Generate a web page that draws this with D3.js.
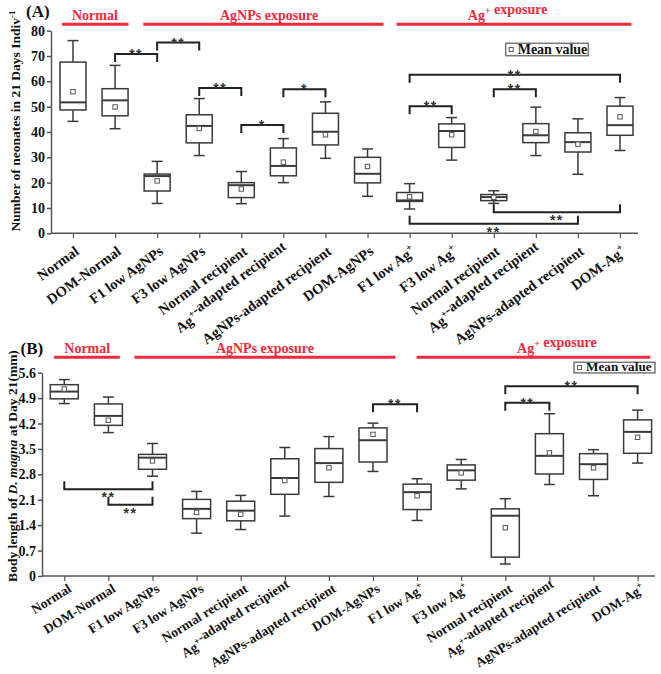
<!DOCTYPE html>
<html><head><meta charset="utf-8">
<script src="https://cdn.jsdelivr.net/npm/d3@7"></script>
<style>body{margin:0;background:#fff}</style>
</head><body><svg id="c" width="661" height="674"></svg>
<script>
// ---------- data ----------
const categories = ["Normal","DOM-Normal","F1 low AgNPs","F3 low AgNPs","Normal recipient",
  "Ag+-adapted recipient","AgNPs-adapted recipient","DOM-AgNPs","F1 low Ag+","F3 low Ag+",
  "Normal recipient","Ag+-adapted recipient","AgNPs-adapted recipient","DOM-Ag+"];
const groupNames = ["Normal","AgNPs exposure","Ag+ exposure"];

// Panel A: number of neonates
const aTicks = [0,10,20,30,40,50,60,70,80];
const aMin  = [44.2,41.3,11.8,30.7,11.7,20.0,29.6,14.6, 9.6,28.9,11.8,30.7,23.3,32.7];
const aQ1   = [48.7,46.4,16.7,35.7,14.1,22.7,34.9,19.9,12.6,33.9,12.9,35.8,32.1,38.7];
const aMed  = [51.7,52.5,22.6,42.4,19.0,26.6,40.1,23.5,13.0,40.4,14.3,38.7,36.0,42.7];
const aQ3   = [67.6,57.1,23.4,46.8,20.0,33.7,47.4,30.0,16.1,43.2,15.3,43.3,39.7,50.2];
const aMax  = [76.1,66.3,28.4,53.2,24.4,37.4,51.9,33.3,19.6,45.7,16.8,49.8,45.2,53.6];
const aMean = [55.9,49.9,20.7,41.4,17.5,28.1,38.9,26.4,14.4,38.9,14.2,40.2,35.2,46.0];
const aBrackets = [
  {from:1,to:2,level:70.8,label:"**",dir:"top"},
  {from:2,to:3,level:75.3,label:"**",dir:"top"},
  {from:3,to:4,level:57.4,label:"**",dir:"top"},
  {from:4,to:5,level:42.8,label:"*",dir:"top"},
  {from:5,to:6,level:56.9,label:"*",dir:"top"},
  {from:8,to:13,level:62.6,label:"**",dir:"top"},
  {from:8,to:9,level:50.2,label:"**",dir:"top"},
  {from:10,to:11,level:56.9,label:"**",dir:"top"},
  {from:8,to:12,level:3.8,label:"**",dir:"bottom"},
  {from:10,to:13,level:8.3,label:"**",dir:"bottom"}
];

// Panel B: body length
const bTicks = [0,0.7,1.4,2.1,2.8,3.5,4.2,4.9,5.6];
const bTickLabels = ["0","0.7","1.4","2.1","2.8","3.5","4.2","4.9","5.6"];
const bMin  = [4.75,3.95,2.75,1.18,1.28,1.65,2.19,2.88,1.53,2.40,0.33,2.52,2.21,3.11];
const bQ1   = [4.88,4.15,2.94,1.58,1.52,2.25,2.58,3.14,1.83,2.64,0.52,2.81,2.66,3.38];
const bMed  = [5.08,4.41,3.26,1.85,1.80,2.70,3.11,3.74,2.31,2.91,1.66,3.31,3.08,3.97];
const bQ3   = [5.27,4.74,3.35,2.11,2.06,3.23,3.51,4.08,2.53,3.06,1.85,3.92,3.37,4.30];
const bMax  = [5.41,4.93,3.65,2.33,2.22,3.54,3.84,4.21,2.68,3.21,2.13,4.47,3.48,4.57];
const bMean = [5.15,4.29,3.17,1.75,1.70,2.63,2.98,3.90,2.21,2.84,1.33,3.39,2.98,3.82];
const bBrackets = [
  {from:0,to:2,level:2.39,label:"**",dir:"bottom"},
  {from:1,to:2,level:1.96,label:"**",dir:"bottom"},
  {from:7,to:8,level:4.73,label:"**",dir:"top"},
  {from:10,to:11,level:4.77,label:"**",dir:"top"},
  {from:10,to:13,level:5.23,label:"**",dir:"top"}
];

// ---------- layout ----------
const SERIF = "'Liberation Serif','Times New Roman',serif";
const RED = "#ee2a3b";
const INK = "#3a3a3a";

const panels = [
  {title:"(A)", titleX:26, titleY:16.5,
   ticks:aTicks, tickLabels:aTicks.map(String), domain:[0,80], yRange:[233.3,30.7],
   xRange:[73,620], axisX:51, axisEnd:638, boxW:26, capW:11,
   min:aMin,q1:aQ1,med:aMed,q3:aQ3,max:aMax,mean:aMean, brackets:aBrackets,
   yLabel:[{t:"Number of neonates in 21 Days Indiv"},{t:"-1",sup:true}], yLabelX:20, yLabelY:121,
   groupLines:[[-0.26,1.32],[1.67,7.38],[7.69,13.27]], groupText:[0.52,4.66,10.33],
   groupLineY:24.3, groupTextY:20,
   lab:{dx:7, dy:20, angle:-36, size:14.5},
   legend:{x:505.7,y:43.3,w:82.6,h:12.4,fs:14}},
  {title:"(B)", titleX:20.5, titleY:354,
   ticks:bTicks, tickLabels:bTickLabels, domain:[0,5.6], yRange:[576,372.7],
   xRange:[64.3,637.6], axisX:42, axisEnd:655, boxW:28, capW:11,
   min:bMin,q1:bQ1,med:bMed,q3:bQ3,max:bMax,mean:bMean, brackets:bBrackets,
   yLabel:[{t:"Body length of "},{t:"D. magna",it:true},{t:" at Day 21(mm)"}], yLabelX:16.5, yLabelY:466,
   groupLines:[[-0.23,1.26],[1.59,7.51],[7.99,13.29]], groupText:[0.52,4.55,11.17],
   groupLineY:357.3, groupTextY:353,
   lab:{dx:8, dy:15, angle:-32, size:13.5},
   legend:{x:574,y:362.3,w:81,h:10.6,fs:13.2}}
];

const svg = d3.select("#c");

function richText(sel, str, size){
  // renders "Ag+" with a superscript plus
  const parts = str.split("Ag+");
  parts.forEach((p,i)=>{
    if(i>0){
      sel.append("tspan").text("Ag");
      sel.append("tspan").attr("dy",-size*0.4).attr("font-size",size*0.7).text("+");
      sel.append("tspan").attr("dy",size*0.4).text("");
    }
    if(p) sel.append("tspan").text(p);
  });
}

panels.forEach(P=>{
  const g = svg.append("g");
  const idx = d3.range(categories.length);
  const x = d3.scalePoint().domain(idx).range(P.xRange);
  const step = x.step();
  const y = d3.scaleLinear().domain(P.domain).range(P.yRange);
  const xPos = u => P.xRange[0] + u*step;

  // title
  g.append("text").attr("x",P.titleX).attr("y",P.titleY)
    .attr("font-family",SERIF).attr("font-weight","bold").attr("font-size",17).attr("fill","#111").text(P.title);

  // group headers
  P.groupLines.forEach((gl,i)=>{
    g.append("line").attr("x1",xPos(gl[0])).attr("x2",xPos(gl[1]))
      .attr("y1",P.groupLineY).attr("y2",P.groupLineY).attr("stroke",RED).attr("stroke-width",3);
    const t = g.append("text").attr("x",xPos(P.groupText[i])).attr("y",P.groupTextY)
      .attr("text-anchor","middle").attr("font-family",SERIF).attr("font-weight","bold")
      .attr("font-size",14).attr("fill",RED);
    richText(t, groupNames[i], 14);
  });

  // y axis
  const ya = g.append("g").attr("transform",`translate(${P.axisX},0)`)
    .call(d3.axisLeft(y).tickValues(P.ticks).tickFormat((d,i)=>P.tickLabels[i]).tickSize(4).tickSizeOuter(0));
  ya.select(".domain").attr("stroke","#555").attr("stroke-width",1.5);
  ya.selectAll(".tick line").attr("stroke","#555").attr("stroke-width",1.5);
  ya.selectAll(".tick text").attr("font-family",SERIF).attr("font-weight","bold")
    .attr("font-size",14).attr("fill","#111").attr("x",-6);

  // y label
  const yl = g.append("text").attr("transform",`translate(${P.yLabelX},${P.yLabelY}) rotate(-90)`)
    .attr("text-anchor","middle").attr("font-family",SERIF).attr("font-weight","bold")
    .attr("font-size",13.5).attr("fill","#111");
  P.yLabel.forEach(s=>{
    const ts = yl.append("tspan").text(s.t);
    if(s.it) ts.attr("font-style","italic");
    if(s.sup) ts.attr("dy",-5).attr("font-size",9);
  });

  // x axis
  const base = y(0);
  g.append("line").attr("x1",P.axisX).attr("x2",P.axisEnd).attr("y1",base).attr("y2",base)
    .attr("stroke","#555").attr("stroke-width",1.5);
  const xa = g.append("g").attr("transform",`translate(0,${base})`)
    .call(d3.axisBottom(x).tickSize(5).tickSizeOuter(0).tickFormat(""));
  xa.select(".domain").remove();
  xa.selectAll(".tick line").attr("stroke","#555").attr("stroke-width",1.2);
  idx.forEach(i=>{
    const t = g.append("text")
      .attr("transform",`translate(${x(i)+P.lab.dx},${base+P.lab.dy}) rotate(${P.lab.angle})`)
      .attr("text-anchor","end").attr("font-family",SERIF).attr("font-weight","bold")
      .attr("font-size",P.lab.size).attr("fill","#111");
    richText(t, categories[i], P.lab.size);
  });

  // boxes
  const bx = g.append("g").attr("fill","none").attr("stroke",INK).attr("stroke-width",1.5);
  idx.forEach(i=>{
    const cx = x(i), hw = P.boxW/2, cw = P.capW/2;
    bx.append("line").attr("x1",cx).attr("x2",cx).attr("y1",y(P.max[i])).attr("y2",y(P.q3[i]));
    bx.append("line").attr("x1",cx).attr("x2",cx).attr("y1",y(P.q1[i])).attr("y2",y(P.min[i]));
    bx.append("line").attr("x1",cx-cw).attr("x2",cx+cw).attr("y1",y(P.max[i])).attr("y2",y(P.max[i]));
    bx.append("line").attr("x1",cx-cw).attr("x2",cx+cw).attr("y1",y(P.min[i])).attr("y2",y(P.min[i]));
    bx.append("rect").attr("x",cx-hw).attr("width",P.boxW)
      .attr("y",y(P.q3[i])).attr("height",y(P.q1[i])-y(P.q3[i])).attr("fill","#fff");
    bx.append("line").attr("x1",cx-hw).attr("x2",cx+hw).attr("y1",y(P.med[i])).attr("y2",y(P.med[i])).attr("stroke-width",2);
    bx.append("rect").attr("x",cx-2.2).attr("y",y(P.mean[i])-2.2).attr("width",4.4).attr("height",4.4)
      .attr("stroke","#555").attr("stroke-width",1).attr("fill","#fff");
  });

  // significance brackets
  const br = g.append("g");
  P.brackets.forEach(b=>{
    const x1 = x(b.from), x2 = x(b.to), ly = y(b.level);
    const leg = b.dir==="top" ? 8 : -8;
    br.append("path").attr("d",`M${x1},${ly+leg}V${ly}H${x2}V${ly+leg}`)
      .attr("fill","none").attr("stroke","#222").attr("stroke-width",2);
    br.append("text").attr("x",(x1+x2)/2).attr("y", b.dir==="top" ? ly+5 : ly+13)
      .attr("text-anchor","middle").attr("font-family","'Liberation Sans',Arial,sans-serif")
      .attr("font-weight","bold").attr("font-size",14).attr("letter-spacing",1.5)
      .attr("fill","#333").text(b.label);
  });

  // legend
  const L = P.legend;
  g.append("rect").attr("x",L.x).attr("y",L.y).attr("width",L.w).attr("height",L.h)
    .attr("fill","#fff").attr("stroke","#777").attr("stroke-width",1.5);
  g.append("rect").attr("x",L.x+3.5).attr("y",L.y+L.h/2-2).attr("width",4).attr("height",4)
    .attr("fill","#fff").attr("stroke","#555").attr("stroke-width",1);
  g.append("text").attr("x",L.x+12).attr("y",L.y+L.h-1.5)
    .attr("font-family",SERIF).attr("font-weight","bold").attr("font-size",L.fs).attr("fill","#111").text("Mean value");
});
</script>
</body></html>
